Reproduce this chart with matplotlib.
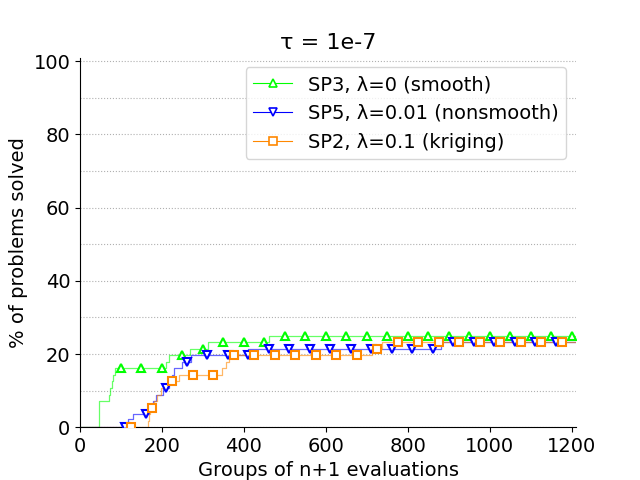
import numpy as np
import matplotlib
matplotlib.use("Agg")
import matplotlib.pyplot as plt
from matplotlib.lines import Line2D
from matplotlib.ticker import MultipleLocator

# Step-function breakpoints (x = groups of n+1 evaluations, y = % problems solved)
sp3_x = [0, 47, 71, 74, 77, 80, 85, 210, 218, 268, 312, 460, 1210]
sp3_y = [0, 7.14, 8.93, 10.71, 12.5, 14.29, 16.07, 17.86, 19.64, 21.43, 23.21, 25.0, 25.0]

sp5_x = [0, 112, 118, 129, 168, 178, 186, 203, 218, 225, 230, 250, 272, 411, 880, 1210]
sp5_y = [0, 1.2, 2.2, 3.57, 5.0, 7.14, 8.93, 10.71, 12.5, 14.29, 16.07, 17.86, 19.64, 21.43, 23.21, 23.21]

sp2_x = [0, 165, 168, 171, 181, 188, 198, 214, 242, 347, 355, 363, 713, 737, 1210]
sp2_y = [0, 1.79, 3.57, 5.36, 7.14, 8.93, 10.71, 12.5, 14.29, 16.07, 17.86, 19.64, 21.43, 23.21, 23.21]

# Marker x positions
sp3_mx = np.arange(100, 1201, 50)
sp5_mx = np.arange(110, 1161, 50)
sp2_mx = np.arange(125, 1176, 50)

labels = ["SP3, λ=0 (smooth)", "SP5, λ=0.01 (nonsmooth)", "SP2, λ=0.1 (kriging)"]
colors = ["#00ff00", "#0000ff", "#ff8800"]
markers = ["^", "v", "s"]

title = "τ = 1e-7"
xlabel = "Groups of n+1 evaluations"
ylabel = "% of problems solved"


def step_val(xs, ys, q):
    xs = np.asarray(xs)
    ys = np.asarray(ys)
    idx = np.searchsorted(xs, q, side="right") - 1
    return ys[np.clip(idx, 0, len(ys) - 1)]


fig, ax = plt.subplots(figsize=(6.4, 4.8), dpi=100)

series = [(sp3_x, sp3_y, sp3_mx), (sp5_x, sp5_y, sp5_mx), (sp2_x, sp2_y, sp2_mx)]
handles = []
for (xs, ys, mx), lab, c, m in zip(series, labels, colors, markers):
    ax.step(xs, ys, where="post", color=c, lw=0.9, alpha=0.6, zorder=2)
    ax.plot(mx, step_val(xs, ys, mx), linestyle="none", marker=m, markersize=6.3,
            markerfacecolor="white", markeredgecolor=c, markeredgewidth=1.5, zorder=3,
            clip_on=True)
    handles.append(Line2D([0], [0], color=c, lw=0.8, marker=m, markersize=6,
                          markerfacecolor="white", markeredgecolor=c, markeredgewidth=1.2,
                          label=lab))

ax.set_xlim(0, 1210)
ax.set_ylim(0, 101)
ax.yaxis.set_major_locator(MultipleLocator(20))
ax.yaxis.set_minor_locator(MultipleLocator(10))
ax.xaxis.set_major_locator(MultipleLocator(200))
ax.grid(axis="y", which="both", linestyle=":", color="#b0b0b0", lw=0.8)
ax.tick_params(axis="y", which="minor", length=0)
ax.tick_params(labelsize=14)
ax.spines["top"].set_visible(False)
ax.spines["right"].set_visible(False)
ax.set_axisbelow(True)

ax.set_title(title, fontsize=16)
ax.set_xlabel(xlabel, fontsize=14)
ax.set_ylabel(ylabel, fontsize=14)
ax.legend(handles=handles, loc="upper right", fontsize=14)

fig.savefig("out.png", dpi=100)
